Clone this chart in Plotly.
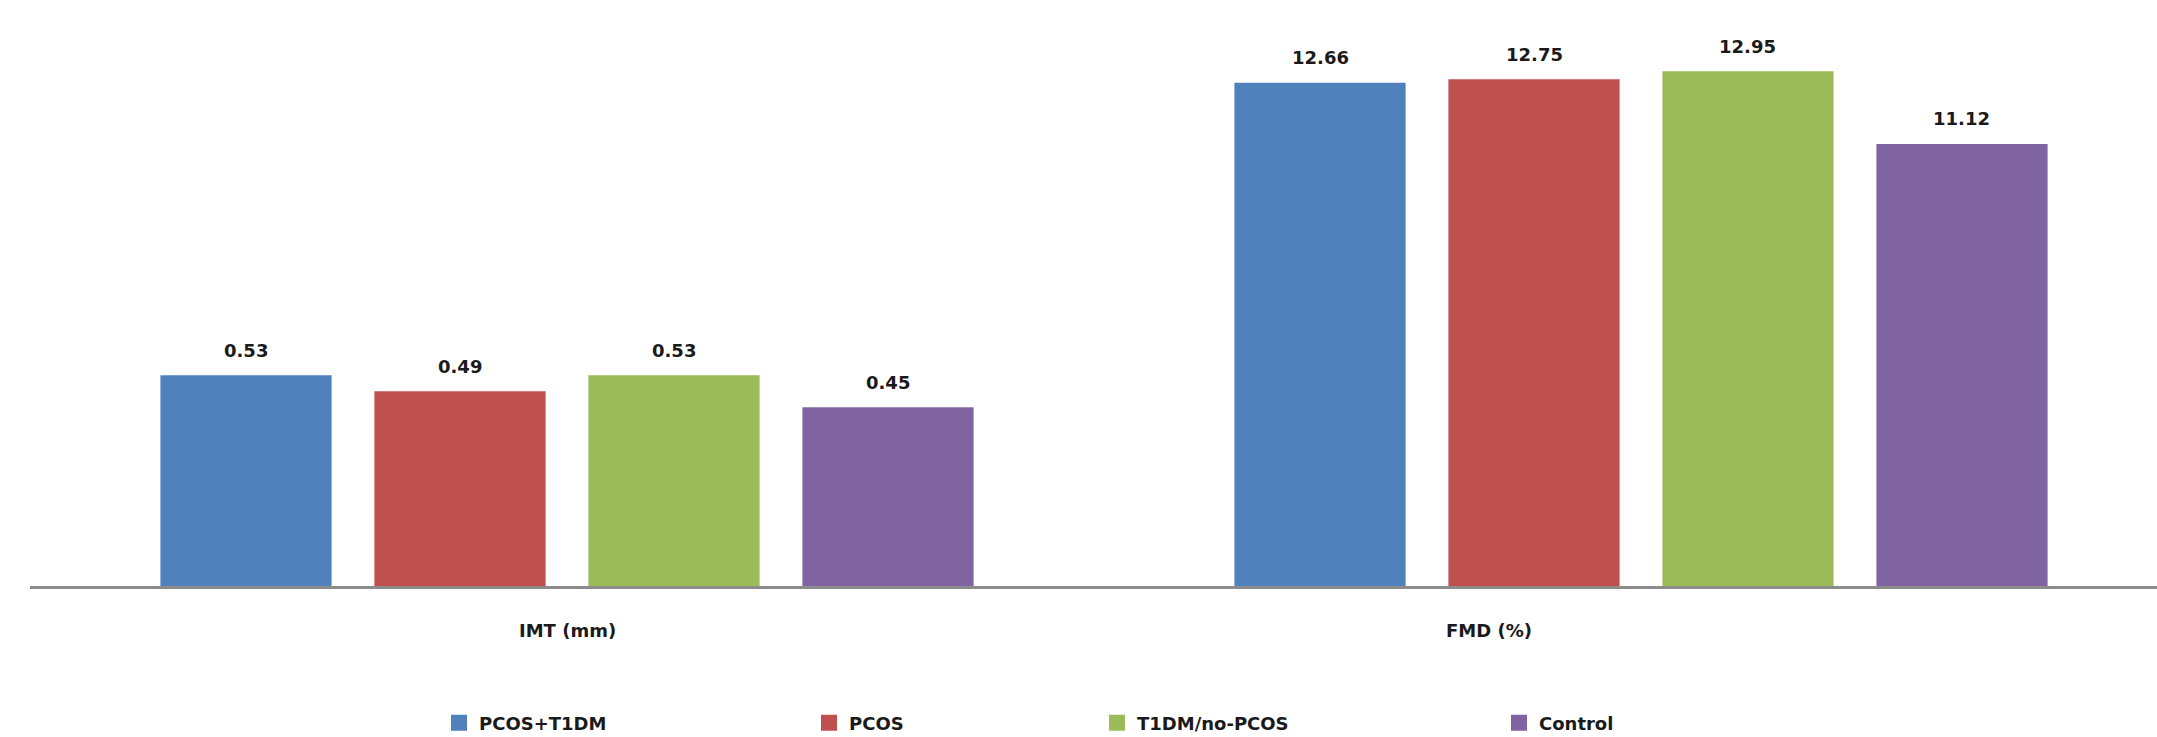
import plotly.graph_objects as go

# ---- data ----
categories = ["IMT (mm)", "FMD (%)"]
groups = ["PCOS+T1DM", "PCOS", "T1DM/no-PCOS", "Control"]
imt_values = [0.53, 0.49, 0.53, 0.45]
fmd_values = [12.66, 12.75, 12.95, 11.12]
# the source chart draws IMT bars on a x10 scale so they are visible next to FMD
imt_display_scale = 10

colors = ["#4F81BD", "#C0504D", "#9BBB59", "#8064A2"]
FONT = "DejaVu Sans, Liberation Sans, Arial, sans-serif"
TXT = "#1a1a1a"

W, H = 2157, 737
ML, MR, MT, MB = 30, 0, 20, 151
cat_px = 1074
plot_w = W - ML - MR
plot_h = H - MT - MB
px_per_unit = 39.75

fig = go.Figure()
legend_lefts = [439, 809, 1097, 1499]
cat_label_shift = [0, -152]   # the source places the second category label off-centre
annotations = []
bargap = 0.203
slot = cat_px * (1 - bargap) / 4

for i, g in enumerate(groups):
    actual = [imt_values[i], fmd_values[i]]
    shown = [imt_values[i] * imt_display_scale, fmd_values[i]]
    lg = "legend" if i == 0 else f"legend{i+1}"
    fig.add_trace(go.Bar(
        x=categories, y=shown, name=g,
        marker=dict(color=colors[i], line=dict(width=0)),
        showlegend=False, hoverinfo="skip",
    ))
    # legend-only entry with a larger square swatch
    fig.add_trace(go.Scatter(
        x=[None], y=[None], name=g, mode="markers",
        marker=dict(symbol="square", size=16, color=colors[i]),
        legend=lg, showlegend=True, hoverinfo="skip",
    ))
    for c, v_show, v_act in zip(categories, shown, actual):
        annotations.append(dict(
            x=c, y=v_show, xref="x", yref="y",
            text=f"<b>{v_act:.2f}</b>", showarrow=False,
            xshift=(i - 1.5) * slot, yshift=25, yanchor="middle",
            font=dict(family=FONT, size=18, color=TXT),
        ))

for c, sh in zip(categories, cat_label_shift):
    annotations.append(dict(
        x=c, y=0, xref="x", yref="paper",
        text=f"<b>{c}</b>", showarrow=False,
        xshift=sh, yshift=-44, yanchor="middle",
        font=dict(family=FONT, size=18, color=TXT),
    ))

layout_legends = {}
for i, lx in enumerate(legend_lefts):
    key = "legend" if i == 0 else f"legend{i+1}"
    layout_legends[key] = dict(
        xref="container", yref="container",
        x=lx / W, y=1 - 723 / H, xanchor="left", yanchor="middle",
        orientation="h", bgcolor="rgba(0,0,0,0)",
        font=dict(family=FONT, size=18, color=TXT, weight="bold"),
        itemclick=False, itemdoubleclick=False,
    )

fig.update_layout(
    width=W, height=H,
    margin=dict(l=ML, r=MR, t=MT, b=MB),
    paper_bgcolor="white", plot_bgcolor="white",
    barmode="group", bargap=bargap, bargroupgap=0.2,
    showlegend=True,
    annotations=annotations,
    **layout_legends,
)
fig.update_xaxes(
    type="category",
    range=[-0.5, -0.5 + plot_w / cat_px],
    showline=True, linecolor="#8c8c8c", linewidth=3,
    showgrid=False, zeroline=False, ticks="",
    showticklabels=False,
)
fig.update_yaxes(
    range=[0, plot_h / px_per_unit], visible=False,
    showgrid=False, zeroline=False,
)

fig.write_html("out.html")
